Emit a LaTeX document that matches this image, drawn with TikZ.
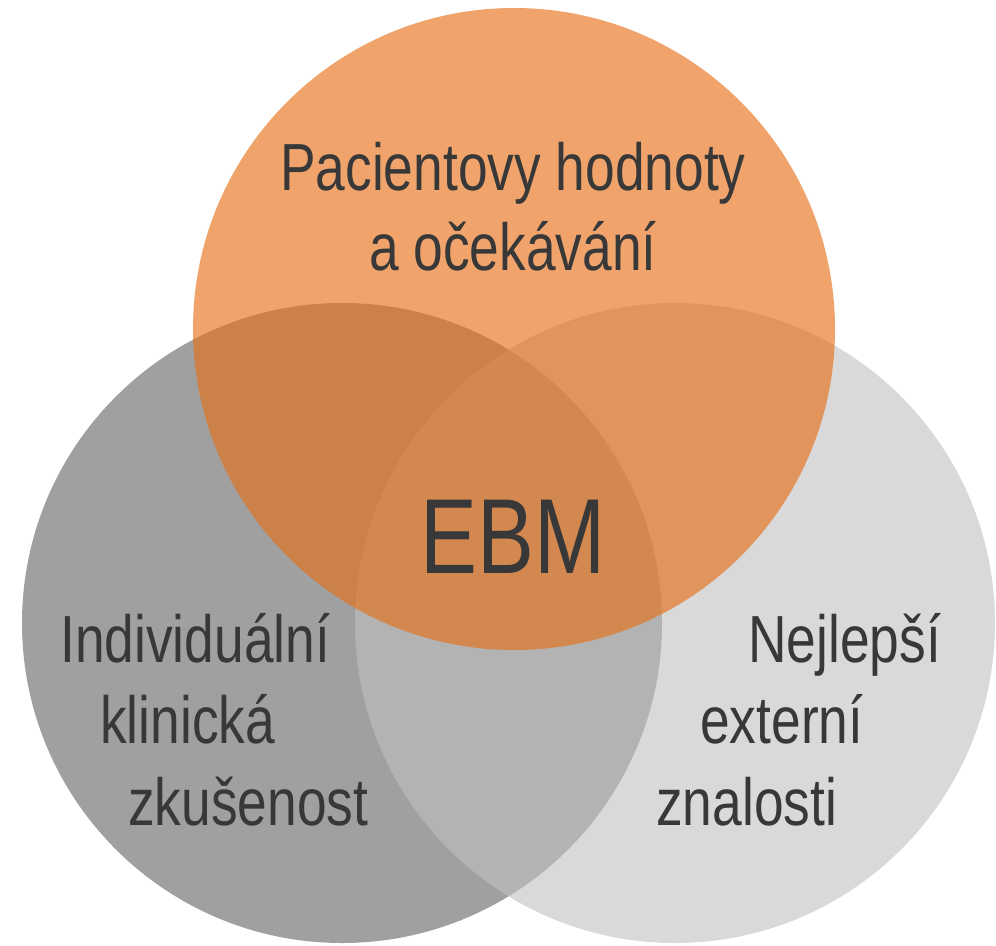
\documentclass[tikz,border=0pt]{standalone}
\usepackage{fontspec}
\setmainfont[FakeStretch=0.8]{Liberation Sans}
\definecolor{leftgray}{RGB}{160,160,160}
\definecolor{rightgray}{RGB}{192,192,192}
\definecolor{ebmorange}{RGB}{231,111,22}
\definecolor{txt}{RGB}{56,56,56}
\begin{document}
\begin{tikzpicture}[x=0.75pt,y=-0.75pt,
  lbl/.style={inner sep=0pt, text=txt, font=\fontsize{50}{60}\selectfont},
  big/.style={inner sep=0pt, text=txt, font=\fontsize{80}{96}\selectfont}]
\useasboundingbox (0,0) rectangle (996,946);
\clip (0,0) rectangle (996,946);
\fill[leftgray] (342,623) circle[radius=240pt];
\fill[rightgray, fill opacity=0.6] (675,623) circle[radius=240pt];
\fill[ebmorange, fill opacity=0.632] (514,329) circle[radius=240.75pt];
\node[lbl, anchor=base] (pac1) at (513,190) {Pacientovy hodnoty};
\node[lbl, anchor=base] (pac2) at (513,270) {a očekávání};
\node[big, anchor=base] (ebm) at (513,573) {EBM};
\node[lbl, anchor=base west] (ind1) at (60,662) {Individuální};
\node[lbl, anchor=base west] (ind2) at (100,743) {klinická};
\node[lbl, anchor=base west] (ind3) at (128,825) {zkušenost};
\node[lbl, anchor=base west] (nej1) at (748,662) {Nejlepší};
\node[lbl, anchor=base west] (nej2) at (700,743) {externí};
\node[lbl, anchor=base west] (nej3) at (656,825) {znalosti};
\end{tikzpicture}
\end{document}
